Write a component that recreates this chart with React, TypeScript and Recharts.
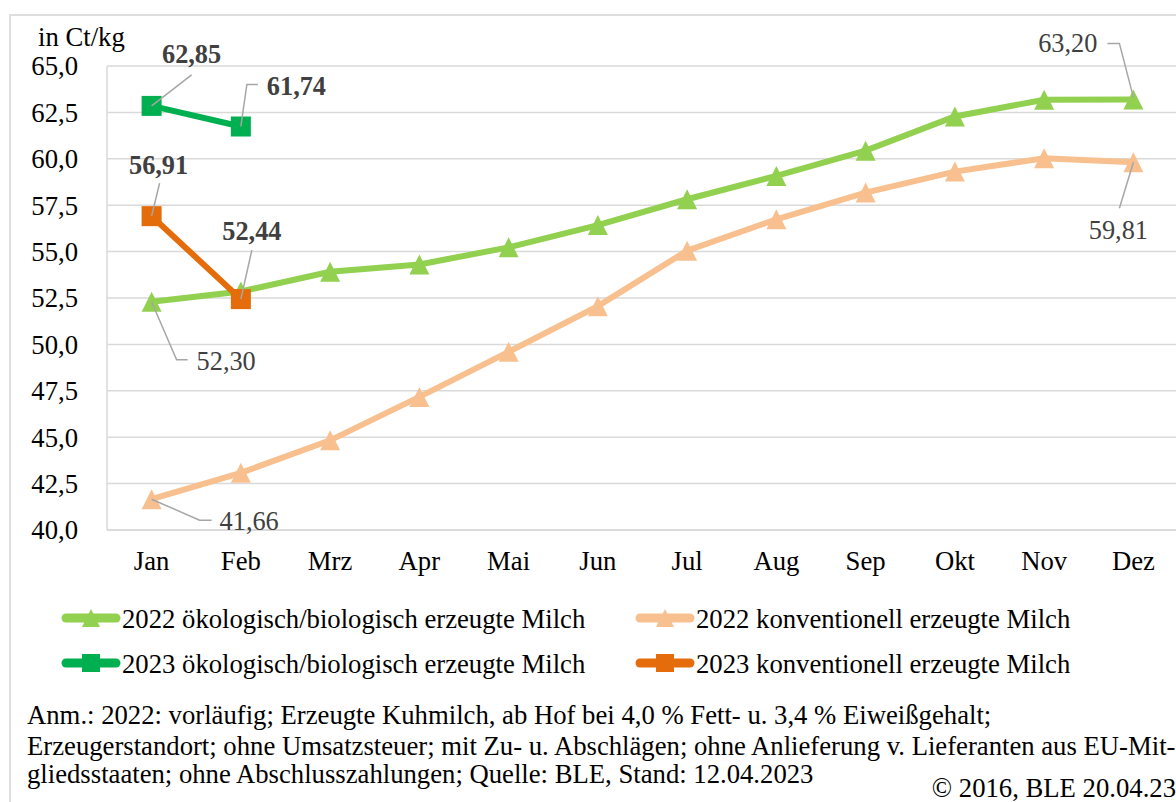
import React from "react";
import { LineChart, Line, XAxis, YAxis, CartesianGrid, LabelList } from "recharts";

const MONTHS = ["Jan", "Feb", "Mrz", "Apr", "Mai", "Jun", "Jul", "Aug", "Sep", "Okt", "Nov", "Dez"];
const BIO_2022 = [52.3, 52.85, 53.91, 54.31, 55.23, 56.43, 57.82, 59.08, 60.44, 62.28, 63.18, 63.2];
const KONV_2022 = [41.66, 43.08, 44.83, 47.17, 49.6, 52.06, 55.05, 56.74, 58.18, 59.31, 60.03, 59.81];
const BIO_2023 = [62.85, 61.74];
const KONV_2023 = [56.91, 52.44];
const Y_TICKS = [40, 42.5, 45, 47.5, 50, 52.5, 55, 57.5, 60, 62.5, 65];

const SERIES = [
  { key: "bio2022", name: "2022 ökologisch/biologisch erzeugte Milch", color: "#92d050", shape: "triangle" },
  { key: "konv2022", name: "2022 konventionell erzeugte Milch", color: "#f9c08f", shape: "triangle" },
  { key: "bio2023", name: "2023 ökologisch/biologisch erzeugte Milch", color: "#00b050", shape: "square" },
  { key: "konv2023", name: "2023 konventionell erzeugte Milch", color: "#e46c0a", shape: "square" },
];

const data = MONTHS.map((month, i) => ({
  month,
  bio2022: BIO_2022[i],
  konv2022: KONV_2022[i],
  bio2023: BIO_2023[i] ?? null,
  konv2023: KONV_2023[i] ?? null,
}));

const FONT = "'Liberation Serif', 'Times New Roman', serif";
const FS = 26.7;

// where the value labels sit, relative to their point
type Spot = { dx: number; dy: number; anchor: "start" | "middle" | "end"; path: number[][] };
const SPOTS: Record<string, Record<number, Spot>> = {
  bio2023: {
    0: { dx: 40, dy: -43, anchor: "middle", path: [[0, 0], [40, -31]] },
    1: { dx: 26, dy: -32, anchor: "start", path: [[0, 0], [6, -42], [17, -42]] },
  },
  konv2023: {
    0: { dx: 7, dy: -42, anchor: "middle", path: [[0, 0], [8, -33]] },
    1: { dx: 11, dy: -59, anchor: "middle", path: [[0, 0], [11, -49]] },
  },
  bio2022: {
    0: { dx: 45, dy: 68, anchor: "start", path: [[0, 0], [25, 58], [36, 58]] },
    11: { dx: -36, dy: -47, anchor: "end", path: [[-26, -56], [-14, -56], [0, -2]] },
  },
  konv2022: {
    0: { dx: 68, dy: 31, anchor: "start", path: [[0, 0], [48, 21], [60, 21]] },
    11: { dx: -15, dy: 77, anchor: "middle", path: [[0, 0], [-14, 46]] },
  },
};

const fmt1 = (v: number) => v.toFixed(1).replace(".", ",");
const fmt2 = (v: number) => v.toFixed(2).replace(".", ",");

function Marker({ cx, cy, color, shape, size }: any) {
  if (cx == null || cy == null) return null;
  const h = size / 2;
  if (shape === "square") {
    return <rect x={cx - h} y={cy - h} width={size} height={size} fill={color} />;
  }
  return <path d={`M${cx},${cy - h} L${cx + h},${cy + h} L${cx - h},${cy + h} Z`} fill={color} />;
}

function makeLabel(key: string, bold: boolean) {
  return (props: any) => {
    const { x, y, value, index } = props;
    const spot = SPOTS[key]?.[index];
    if (!spot || value == null) return null;
    const pts = spot.path.map(([a, b]) => `${x + a},${y + b}`).join(" ");
    return (
      <g>
        <polyline points={pts} fill="none" stroke="#a6a6a6" strokeWidth={1.5} />
        <text
          x={x + spot.dx}
          y={y + spot.dy}
          textAnchor={spot.anchor}
          fontFamily={FONT}
          fontSize={26.3}
          fontWeight={bold ? "bold" : "normal"}
          fill="#404040"
        >
          {fmt2(value)}
        </text>
      </g>
    );
  };
}

function LegendItem({ x, y, s }: any) {
  return (
    <g>
      <line x1={x + 4} y1={y} x2={x + 54} y2={y} stroke={s.color} strokeWidth={9} strokeLinecap="round" />
      <Marker cx={x + 29} cy={y} color={s.color} shape={s.shape} size={18} />
      <text x={x + 60} y={y + 10} fontFamily={FONT} fontSize={FS} fill="#000">
        {s.name}
      </text>
    </g>
  );
}

export default function App() {
  return (
    <div
      style={{
        position: "absolute",
        left: 0,
        top: 0,
        width: 1176,
        height: 802,
        overflow: "hidden",
        background: "#fff",
      }}
    >
      <div
        style={{
          position: "absolute",
          left: 9,
          top: 14,
          width: 1300,
          height: 900,
          border: "2px solid #dedede",
        }}
      />
      <div style={{ position: "absolute", left: 0, top: 0 }}>
        <LineChart
          width={1178}
          height={802}
          data={data}
          margin={{ top: 66, right: 0, left: 0, bottom: 212 }}
        >
          <CartesianGrid vertical={false} stroke="#d9d9d9" strokeWidth={1.5} />
          <XAxis
            dataKey="month"
            interval={0}
            height={60}
            padding={{ left: 44.6, right: 44.6 }}
            tickLine={false}
            tickSize={0}
            tickMargin={21}
            axisLine={{ stroke: "#d9d9d9", strokeWidth: 1.5 }}
            tick={{ fontSize: FS, fontFamily: FONT, fill: "#000" }}
          />
          <YAxis
            domain={[40, 65]}
            ticks={Y_TICKS}
            width={107}
            tickFormatter={fmt1}
            tickLine={false}
            tickSize={0}
            tickMargin={29}
            axisLine={{ stroke: "#d9d9d9", strokeWidth: 1.5 }}
            tick={{ fontSize: FS, fontFamily: FONT, fill: "#000" }}
          />
          {SERIES.map((s) => (
            <Line
              key={s.key}
              dataKey={s.key}
              name={s.name}
              type="linear"
              stroke={s.color}
              strokeWidth={6}
              connectNulls={false}
              isAnimationActive={false}
              dot={(p: any) => (
                <Marker key={`${s.key}-${p.index}`} cx={p.cx} cy={p.cy} color={s.color} shape={s.shape} size={20} />
              )}
              activeDot={false}
            >
              <LabelList dataKey={s.key} content={makeLabel(s.key, s.shape === "square")} />
            </Line>
          ))}
        </LineChart>
      </div>
      <svg
        width={1176}
        height={802}
        style={{ position: "absolute", left: 0, top: 0, pointerEvents: "none" }}
      >
        <text x={38} y={46} fontFamily={FONT} fontSize={FS} fill="#000">
          in Ct/kg
        </text>
        <LegendItem x={62} y={618} s={SERIES[0]} />
        <LegendItem x={636} y={618} s={SERIES[1]} />
        <LegendItem x={62} y={663} s={SERIES[2]} />
        <LegendItem x={636} y={663} s={SERIES[3]} />
        <g fontFamily={FONT} fontSize={FS} fill="#000">
          <text x={27} y={724}>
            Anm.: 2022: vorläufig; Erzeugte Kuhmilch, ab Hof bei 4,0 % Fett- u. 3,4 % Eiweißgehalt;
          </text>
          <text x={27} y={755}>
            Erzeugerstandort; ohne Umsatzsteuer; mit Zu- u. Abschlägen; ohne Anlieferung v. Lieferanten aus EU-Mit-
          </text>
          <text x={27} y={783}>
            gliedsstaaten; ohne Abschlusszahlungen; Quelle: BLE, Stand: 12.04.2023
          </text>
          <text x={1176} y={797} textAnchor="end">
            © 2016, BLE 20.04.23
          </text>
        </g>
      </svg>
    </div>
  );
}
